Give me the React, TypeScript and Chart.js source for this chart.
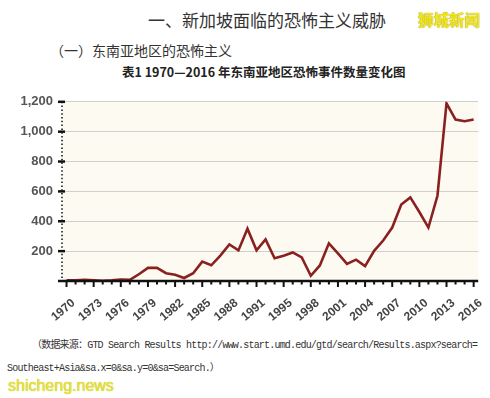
import React, { useEffect, useRef } from "react";
import { Chart, registerables } from "chart.js";

Chart.register(...registerables);

const years: string[] = [
  "1970", "1971", "1972", "1973", "1974", "1975", "1976", "1977", "1978", "1979",
  "1980", "1981", "1982", "1983", "1984", "1985", "1986", "1987", "1988", "1989",
  "1990", "1991", "1992", "1994", "1995", "1996", "1997", "1998", "1999", "2000",
  "2001", "2002", "2003", "2004", "2005", "2006", "2007", "2008", "2009", "2010",
  "2011", "2012", "2013", "2014", "2015", "2016",
];

const incidents: number[] = [
  5, 5, 8, 5, 2, 5, 10, 8, 45, 88,
  88, 52, 42, 20, 52, 130, 105, 170, 245, 205,
  350, 206, 278, 152, 169, 191, 158, 35, 104, 252,
  185, 115, 143, 100, 202, 271, 358, 512, 560, 462,
  358, 571, 1190, 1081, 1070, 1081,
];

const yTicks: number[] = [0, 200, 400, 600, 800, 1000, 1200];

const axesPlugin = {
  id: "customAxes",
  beforeDraw(chart: any) {
    const { ctx, chartArea } = chart;
    ctx.save();
    ctx.fillStyle = "#fdfbf1";
    ctx.fillRect(chartArea.left, chartArea.top, chartArea.right - chartArea.left, chartArea.bottom - chartArea.top);
    ctx.restore();
  },
  afterDraw(chart: any) {
    const { ctx, chartArea } = chart;
    const x = chart.scales.x;
    const y = chart.scales.y;
    const left = chartArea.left;
    const y0 = y.getPixelForValue(0);
    ctx.save();
    ctx.strokeStyle = "#111";
    ctx.lineWidth = 1.5;
    ctx.setLineDash([1.5, 2.3]);
    ctx.beginPath();
    ctx.moveTo(left, y.getPixelForValue(1200));
    ctx.lineTo(left, y0);
    ctx.stroke();
    ctx.setLineDash([]);
    ctx.lineWidth = 2.5;
    yTicks.forEach((v) => {
      if (v === 0) return;
      const py = y.getPixelForValue(v);
      ctx.beginPath();
      ctx.moveTo(left - 4, py);
      ctx.lineTo(left + 3, py);
      ctx.stroke();
    });
    ctx.lineWidth = 2.5;
    ctx.beginPath();
    ctx.moveTo(left - 4, y0);
    ctx.lineTo(chartArea.right, y0);
    ctx.stroke();
    ctx.lineWidth = 2;
    years.forEach((_, i) => {
      const px = x.getPixelForValue(i);
      const len = i % 3 === 0 ? 6 : 3.5;
      ctx.beginPath();
      ctx.moveTo(px, y0);
      ctx.lineTo(px, y0 + len);
      ctx.stroke();
    });
    ctx.restore();
  },
};

function LineChart() {
  const ref = useRef<HTMLCanvasElement | null>(null);
  useEffect(() => {
    if (!ref.current) return;
    const chart = new Chart(ref.current, {
      type: "line",
      data: {
        labels: years,
        datasets: [
          {
            data: incidents,
            borderColor: "#8a2020",
            borderWidth: 2.6,
            pointRadius: 0,
            tension: 0,
            fill: false,
          },
        ],
      },
      options: {
        animation: false,
        responsive: false,
        devicePixelRatio: 1,
        layout: { padding: { top: 12, right: 9, left: 0, bottom: 0 } },
        plugins: { legend: { display: false }, tooltip: { enabled: false } },
        scales: {
          x: {
            type: "category",
            offset: true,
            grid: { display: false },
            border: { display: false },
            afterFit: (s: any) => {
              s.height = 44;
            },
            ticks: {
              autoSkip: false,
              minRotation: 40,
              maxRotation: 40,
              padding: 7,
              labelOffset: 7,
              color: "#444",
              font: { family: "Liberation Sans, Arial, sans-serif", size: 12, weight: "bold" },
              callback: (_v: any, i: number) => (i % 3 === 0 ? years[i] : ""),
            },
          },
          y: {
            min: 0,
            max: 1200,
            afterFit: (s: any) => {
              s.width = 62;
            },
            afterBuildTicks: (s: any) => {
              s.ticks = yTicks.map((v) => ({ value: v }));
            },
            grid: { color: "#cfcfcf", lineWidth: 1, drawTicks: false },
            border: { display: false },
            ticks: {
              padding: 9,
              color: "#555",
              font: { family: "Liberation Sans, Arial, sans-serif", size: 13, weight: "bold" },
              callback: (v: any) => (v === 0 ? "" : Number(v).toLocaleString("en-US")),
            },
          },
        },
      },
      plugins: [axesPlugin],
    });
    return () => chart.destroy();
  }, []);
  return <canvas ref={ref} width={490} height={240} style={{ position: "absolute", left: 0, top: 85, width: 490, height: 240 }} />;
}

const abs = (o: React.CSSProperties): React.CSSProperties => ({
  position: "absolute",
  whiteSpace: "nowrap",
  lineHeight: 1,
  margin: 0,
  ...o,
});

export default function App() {
  return (
    <div style={{ position: "fixed", left: 0, top: 0, width: 490, height: 398, background: "#fff", overflow: "hidden" }}>
      <div style={abs({ left: 148, top: 11, fontSize: 17, color: "#333", fontFamily: "'Noto Sans CJK SC', sans-serif" })}>
        一、新加坡面临的恐怖主义威胁
      </div>
      <div
        style={abs({
          left: 418,
          top: 12,
          fontSize: 15.5,
          fontWeight: "bold",
          color: "#f2e81c",
          textShadow: "0 0 1px #8a7d00",
          fontFamily: "'Noto Sans CJK SC', sans-serif",
        })}
      >
        狮城新闻
      </div>
      <div style={abs({ left: 50, top: 43, fontSize: 14, color: "#333", fontFamily: "'Noto Sans CJK SC', sans-serif" })}>
        （一）东南亚地区的恐怖主义
      </div>
      <div
        style={abs({
          left: 122,
          top: 66,
          fontSize: 12.5,
          fontWeight: "bold",
          color: "#222",
          fontFamily: "'Noto Sans CJK SC', sans-serif",
        })}
      >
        表1 1970—2016 年东南亚地区恐怖事件数量变化图
      </div>
      <LineChart />
      <div
        style={abs({
          left: 32,
          top: 341,
          fontSize: 10,
          letterSpacing: -0.8,
          color: "#333",
          fontFamily: "'Liberation Mono', 'Noto Sans CJK SC', monospace",
        })}
      >
        （数据来源：GTD Search Results  http://www.start.umd.edu/gtd/search/Results.aspx?search=
      </div>
      <div
        style={abs({
          left: 7,
          top: 364,
          fontSize: 10,
          letterSpacing: -0.8,
          color: "#333",
          fontFamily: "'Liberation Mono', 'Noto Sans CJK SC', monospace",
        })}
      >
        Southeast+Asia&amp;sa.x=0&amp;sa.y=0&amp;sa=Search.）
      </div>
      <div
        style={abs({
          left: 8,
          top: 378,
          fontSize: 16,
          color: "#e8e23c",
          textShadow: "0 0 1px #b8b000",
          fontFamily: "'Liberation Sans', Arial, sans-serif",
        })}
      >
        shicheng.news
      </div>
    </div>
  );
}
